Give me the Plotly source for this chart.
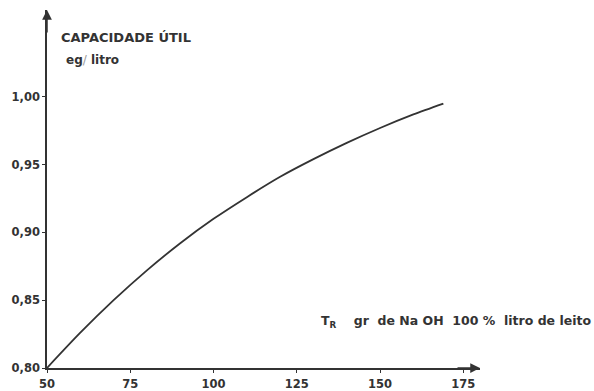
import plotly.graph_objects as go

# Useful capacity vs regeneration level (NaOH)
t_r = [50, 60, 70, 80, 90, 100, 110, 120, 130, 140, 150, 160, 169]
capacidade = [0.800, 0.826, 0.850, 0.872, 0.892, 0.910, 0.926, 0.941, 0.954, 0.966, 0.977, 0.987, 0.995]

x_ticks = [50, 75, 100, 125, 150, 175]
y_ticks = [0.80, 0.85, 0.90, 0.95, 1.00]
y_tick_text = ["0,80", "0,85", "0,90", "0,95", "1,00"]

ink = "#333333"
font_main = "DejaVu Sans"

# plot area in pixels
ML, MR, MT, MB = 47, 114, 10, 23
W, H = 594, 391
pw = W - ML - MR
ph = H - MT - MB


def px(xp):
    return (xp - ML) / pw


def py(yp):
    return (H - MB - yp) / ph


fig = go.Figure()
fig.add_trace(go.Scatter(
    x=t_r, y=capacidade, mode="lines",
    line=dict(color=ink, width=1.8, shape="spline", smoothing=0.8),
    hoverinfo="skip", showlegend=False,
))

fig.update_layout(
    width=W, height=H,
    margin=dict(l=ML, r=MR, t=MT, b=MB),
    paper_bgcolor="#ffffff", plot_bgcolor="#ffffff",
    font=dict(family=font_main, color=ink, size=11),
    xaxis=dict(
        range=[50, 180], tickvals=x_ticks, ticktext=[str(v) for v in x_ticks],
        showgrid=False, zeroline=False, showline=True, linecolor=ink, linewidth=1.5,
        ticks="outside", ticklen=3, tickcolor=ink, tickwidth=1, ticklabelstandoff=1,
        tickfont=dict(family=font_main, size=11.5, color=ink, weight="bold"),
        automargin=False,
    ),
    yaxis=dict(
        range=[0.80, 1.064], tickvals=y_ticks, ticktext=y_tick_text,
        showgrid=False, zeroline=False, showline=True, linecolor=ink, linewidth=1.5,
        ticks="outside", ticklen=3, tickcolor=ink, tickwidth=1,
        tickfont=dict(family=font_main, size=11.5, color=ink, weight="bold"),
        automargin=False,
    ),
)

# axis arrowheads
fig.add_annotation(x=50, y=1.0, xref="x", yref="paper", ax=0, ay=24, text="",
                   showarrow=True, arrowhead=2, arrowsize=1.3, arrowwidth=1.5, arrowcolor=ink)
fig.add_annotation(x=1.0, y=0.80, xref="paper", yref="y", ax=-24, ay=0, text="",
                   showarrow=True, arrowhead=2, arrowsize=1.3, arrowwidth=1.5, arrowcolor=ink)

# axis titles
fig.add_annotation(x=px(59), y=py(37), xref="paper", yref="paper", xanchor="left", yanchor="middle",
                   text="CAPACIDADE ÚTIL", showarrow=False,
                   font=dict(family=font_main, size=13, color=ink, weight="bold"))
fig.add_annotation(x=px(64), y=py(60), xref="paper", yref="paper", xanchor="left", yanchor="middle",
                   text="eg<span style='color:#9a9a9a;font-weight:normal'>/</span> litro", showarrow=False,
                   font=dict(family=font_main, size=12, color=ink, weight="bold"))
fig.add_annotation(x=px(593), y=py(321), xref="paper", yref="paper", xanchor="right", yanchor="middle",
                   text="T<sub>R</sub>    gr  de Na OH  100 %  litro de leito", showarrow=False,
                   font=dict(family=font_main, size=12.5, color=ink, weight="bold"))

fig.write_html("out.html")
